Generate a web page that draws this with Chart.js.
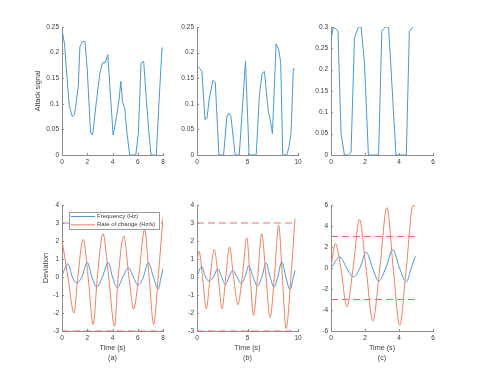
<!DOCTYPE html>
<html>
<head>
<meta charset="utf-8">
<script src="https://cdn.jsdelivr.net/npm/chart.js@4.4.1/dist/chart.umd.min.js"></script>
<style>
  body { margin: 0; background: #fff; width: 479px; height: 372px; position: relative; overflow: hidden; }
  canvas { position: absolute; }
</style>
</head>
<body>
<canvas id="attackA" width="151" height="152" style="left:22px;top:17px"></canvas>
<canvas id="attackB" width="151" height="152" style="left:157px;top:17px"></canvas>
<canvas id="attackC" width="152" height="152" style="left:291px;top:17px"></canvas>
<canvas id="devA" width="151" height="169" style="left:22px;top:195px"></canvas>
<canvas id="devB" width="151" height="169" style="left:157px;top:195px"></canvas>
<canvas id="devC" width="152" height="169" style="left:291px;top:195px"></canvas>
<script>
// ---- attack signal (top row) ----
const attackTimeA = [0, 0.21, 0.37, 0.58, 0.82, 1.0, 1.29, 1.42, 1.63, 1.82, 2.0, 2.26, 2.42, 2.74, 3.0, 3.21, 3.42, 3.63, 3.79, 4.05, 4.32, 4.53, 4.66, 4.79, 4.97, 5.16, 5.37, 5.84, 6.05, 6.26, 6.47, 6.68, 6.89, 7.05, 7.47, 7.68, 7.92, 8.0];
const attackA = [0.245, 0.215, 0.16, 0.095, 0.075, 0.08, 0.134, 0.212, 0.222, 0.221, 0.166, 0.044, 0.039, 0.108, 0.16, 0.18, 0.18, 0.196, 0.134, 0.039, 0.075, 0.11, 0.144, 0.104, 0.091, 0.039, 0, 0, 0.042, 0.18, 0.183, 0.108, 0.042, 0, 0, 0.101, 0.209, 0.209];

const attackTimeB = [0, 0.33, 0.49, 0.79, 0.99, 1.22, 1.58, 1.81, 2.17, 2.63, 2.96, 3.16, 3.36, 3.78, 4.18, 4.44, 4.80, 5.16, 5.86, 6.18, 6.45, 6.68, 7.04, 7.24, 7.47, 7.83, 8.09, 8.29, 8.49, 8.88, 9.11, 9.31, 9.54, 9.70];
const attackB = [0.174, 0.168, 0.163, 0.069, 0.072, 0.111, 0.146, 0.142, 0, 0, 0.075, 0.082, 0.075, 0, 0, 0.075, 0.183, 0, 0, 0.117, 0.16, 0.163, 0.088, 0.069, 0.042, 0.217, 0.206, 0.18, 0, 0, 0.016, 0.042, 0.168, 0.168];

const attackTimeC = [0, 0.14, 0.33, 0.41, 0.59, 0.79, 1.02, 1.18, 1.38, 1.61, 1.77, 1.97, 2.2, 2.8, 2.99, 3.19, 3.39, 3.82, 4.43, 4.61, 4.82];
const attackC = [0.27, 0.3, 0.294, 0.29, 0.051, 0, 0, 0.006, 0.274, 0.3, 0.3, 0.215, 0, 0, 0.29, 0.3, 0.3, 0, 0, 0.29, 0.3];

// ---- deviation (bottom row) ----
const freqTimeA = [0, 0.47, 0.82, 1.16, 1.58, 2.0, 2.37, 2.74, 3.2, 3.66, 4.0, 4.37, 4.82, 5.26, 5.65, 6.03, 6.44, 6.84, 7.24, 7.63, 7.85, 8.0];
const freqA = [0.09, 0.74, 0, -0.33, 0, 0.81, 0, -0.56, 0, 0.81, 0, -0.59, 0, 0.52, 0, -0.46, 0, 0.8, 0, -0.67, 0, 0.45];
const rocTimeA = [0, 0.47, 0.95, 1.25, 1.68, 2.07, 2.47, 2.8, 3.24, 3.7, 4.16, 4.45, 4.89, 5.3, 5.68, 6.07, 6.55, 6.9, 7.26, 7.62, 8.0];
const rocA = [2.04, 0, -2.0, 0, 2.09, 0, -2.63, 0, 2.41, 0, -2.74, 0, 2.28, 0, -1.78, 0, 2.63, 0, -2.63, 0, 3.3];

const freqTimeB = [0, 0.46, 0.85, 1.22, 1.63, 2.07, 2.44, 2.8, 3.17, 3.55, 3.95, 4.38, 4.75, 5.13, 5.55, 5.99, 6.42, 6.84, 7.24, 7.63, 8.0, 8.39, 8.8, 9.21, 9.55, 9.7];
const freqB = [0.04, 0.59, 0, -0.24, 0, 0.46, 0, -0.41, 0, 0.37, 0, -0.37, 0, 0.63, 0, -0.5, 0, 0.78, 0, -0.56, 0, 0.85, 0, -0.7, 0, 0.37];
const rocTimeB = [0, 0.2, 0.55, 0.92, 1.3, 1.71, 2.1, 2.47, 2.85, 3.22, 3.62, 4.05, 4.48, 4.93, 5.26, 5.59, 6.0, 6.41, 6.83, 7.24, 7.66, 8.09, 8.45, 8.82, 9.3, 9.7];
const rocB = [0.83, 1.44, 0, -1.76, 0, 1.52, 0, -1.76, 0, 1.67, 0, -1.54, 0, 2.17, 0, -2.13, 0, 2.41, 0, -2.26, 0, 2.87, 0, -2.87, 0, 3.24];

const freqTimeC = [0, 0.53, 0.92, 1.32, 1.7, 2.07, 2.44, 2.81, 3.22, 3.64, 4.03, 4.43, 4.72, 4.96];
const freqC = [0, 1.05, 0, -0.86, 0, 1.52, 0, -1.24, 0, 1.75, 0, -1.33, 0, 1.11];
const rocTimeC = [0, 0.26, 0.58, 0.93, 1.3, 1.67, 2.06, 2.46, 2.87, 3.29, 3.66, 4.04, 4.43, 4.82, 4.96];
const rocC = [0.16, 2.32, 0, -3.71, 0, 4.63, 0, -5.05, 0, 5.75, 0, -5.46, 0, 5.94, 5.87];

// rate-of-change limits (dashed)
const limitTimeA = [0, 8];
const limitTimeB = [0, 9.7];
const limitTimeC = [0, 4.96];
const limitHigh = 3;
const limitLow = -3;

// ticks
const timeTicksA = [0, 2, 4, 6, 8];
const timeTicksB = [0, 5, 10];
const timeTicksC = [0, 2, 4, 6];
const attackTicksAB = [0, 0.05, 0.1, 0.15, 0.2, 0.25];
const attackTicksC = [0, 0.05, 0.1, 0.15, 0.2, 0.25, 0.3];
const devTicksAB = [-3, -2, -1, 0, 1, 2, 3, 4];
const devTicksC = [-6, -4, -2, 0, 2, 4, 6];

const legendLabels = ['Frequency (Hz)', 'Rate of change (Hz/s)'];
const panelLabels = ['(a)', '(b)', '(c)'];

const blue = 'rgb(72,152,212)';
const orange = 'rgb(236,128,98)';
const dashRed = 'rgb(244,104,100)';
const axisColor = '#8c8c8c';
const textColor = '#3a3a3a';
const fontFamily = '"Liberation Sans", Arial, Helvetica, sans-serif';

function pts(xs, ys) {
    return xs.map((x, i) => ({x: x, y: ys[i]}));
}

function series(xs, ys, color, extra) {
    return Object.assign({
        data: pts(xs, ys),
        borderColor: color,
        borderWidth: 1,
        pointRadius: 0,
        fill: false,
        tension: 0
    }, extra || {});
}

function limitLine(xs, level) {
    return series(xs, xs.map(() => level), dashRed, {borderDash: [7, 4], clip: false});
}

// MATLAB-like inward tick marks
const inwardTicks = {
    id: 'inwardTicks',
    afterDraw(chart) {
        const {ctx, chartArea: a, scales} = chart;
        ctx.save();
        ctx.strokeStyle = axisColor;
        ctx.lineWidth = 1;
        ctx.beginPath();
        scales.x.ticks.forEach(t => {
            const px = Math.round(scales.x.getPixelForValue(t.value)) + 0.5;
            ctx.moveTo(px, a.bottom);
            ctx.lineTo(px, a.bottom - 2);
        });
        scales.y.ticks.forEach(t => {
            const py = Math.round(scales.y.getPixelForValue(t.value)) + 0.5;
            ctx.moveTo(a.left, py);
            ctx.lineTo(a.left + 2, py);
        });
        ctx.stroke();
        ctx.restore();
    }
};

// legend drawn inside the plot area
const boxLegend = {
    id: 'boxLegend',
    afterDatasetsDraw(chart, args, opts) {
        if (!opts.items) return;
        const {ctx, chartArea: a} = chart;
        const x0 = a.left + 7, x1 = a.right - 4, y0 = a.top + 7, y1 = a.top + 24;
        ctx.save();
        ctx.fillStyle = '#fff';
        ctx.fillRect(x0, y0, x1 - x0, y1 - y0);
        ctx.strokeStyle = '#9a9a9a';
        ctx.lineWidth = 1;
        ctx.strokeRect(x0 + 0.5, y0 + 0.5, x1 - x0, y1 - y0);
        ctx.font = '6px ' + fontFamily;
        ctx.textBaseline = 'middle';
        opts.items.forEach((it, i) => {
            const y = y0 + 4.5 + i * 8.3;
            ctx.strokeStyle = it.color;
            ctx.beginPath();
            ctx.moveTo(x0 + 2, y);
            ctx.lineTo(x0 + 26, y);
            ctx.stroke();
            ctx.fillStyle = textColor;
            ctx.fillText(it.text, x0 + 28, y);
        });
        ctx.restore();
    }
};

function makeChart(id, datasets, o) {
    const fixTicks = arr => (s => { s.ticks = arr.map(v => ({value: v})); });
    return new Chart(document.getElementById(id), {
        type: 'line',
        data: {datasets: datasets},
        plugins: [inwardTicks, boxLegend],
        options: {
            responsive: false,
            animation: false,
            events: [],
            layout: {autoPadding: false, padding: {top: 10, right: 10, left: 0, bottom: 0}},
            plugins: {
                legend: {display: false},
                tooltip: {enabled: false},
                boxLegend: {items: o.legend || null}
            },
            scales: {
                x: {
                    type: 'linear',
                    min: o.xTicks[0],
                    max: o.xTicks[o.xTicks.length - 1],
                    afterBuildTicks: fixTicks(o.xTicks),
                    afterFit: s => { s.height = o.xH; },
                    grid: {display: true, drawOnChartArea: false, drawTicks: false},
                    border: {display: true, color: axisColor, width: 1},
                    ticks: {
                        padding: 3, color: textColor, maxRotation: 0, autoSkip: false,
                        font: {family: fontFamily, size: 6.5},
                        callback: v => String(v)
                    },
                    title: {
                        display: !!o.xTitle,
                        text: o.xTitle || '',
                        color: textColor,
                        font: {family: fontFamily, size: 7.2, lineHeight: 10 / 7.2},
                        padding: {top: 0, bottom: 1}
                    }
                },
                y: {
                    type: 'linear',
                    min: o.yTicks[0],
                    max: o.yTicks[o.yTicks.length - 1],
                    afterBuildTicks: fixTicks(o.yTicks),
                    afterFit: s => { s.width = 40; },
                    grid: {display: true, drawOnChartArea: false, drawTicks: false},
                    border: {display: true, color: axisColor, width: 1},
                    ticks: {
                        padding: 3, color: textColor, autoSkip: false,
                        font: {family: fontFamily, size: 6.5},
                        callback: v => String(+v.toFixed(2))
                    },
                    title: {
                        display: !!o.yTitle,
                        text: o.yTitle || '',
                        color: textColor,
                        font: {family: fontFamily, size: 7.2},
                        padding: {top: o.yTitlePad || 0, bottom: 0}
                    }
                }
            }
        }
    });
}

makeChart('attackA', [series(attackTimeA, attackA, blue)],
    {xTicks: timeTicksA, yTicks: attackTicksAB, xH: 14, yTitle: 'Attack signal', yTitlePad: 11.5});
makeChart('attackB', [series(attackTimeB, attackB, blue)],
    {xTicks: timeTicksB, yTicks: attackTicksAB, xH: 14});
makeChart('attackC', [series(attackTimeC, attackC, blue)],
    {xTicks: timeTicksC, yTicks: attackTicksC, xH: 14});

const legendItems = [{text: legendLabels[0], color: blue}, {text: legendLabels[1], color: orange}];

makeChart('devA', [
    limitLine(limitTimeA, limitHigh),
    limitLine(limitTimeA, limitLow),
    series(rocTimeA, rocA, orange, {cubicInterpolationMode: 'monotone'}),
    series(freqTimeA, freqA, blue, {cubicInterpolationMode: 'monotone'})
], {xTicks: timeTicksA, yTicks: devTicksAB, xH: 33, yTitle: 'Deviation', yTitlePad: 20,
    xTitle: ['Time (s)', panelLabels[0]], legend: legendItems});

makeChart('devB', [
    limitLine(limitTimeB, limitHigh),
    limitLine(limitTimeB, limitLow),
    series(rocTimeB, rocB, orange, {cubicInterpolationMode: 'monotone'}),
    series(freqTimeB, freqB, blue, {cubicInterpolationMode: 'monotone'})
], {xTicks: timeTicksB, yTicks: devTicksAB, xH: 33, xTitle: ['Time (s)', panelLabels[1]]});

makeChart('devC', [
    limitLine(limitTimeC, limitHigh),
    limitLine(limitTimeC, limitLow),
    series(rocTimeC, rocC, orange, {cubicInterpolationMode: 'monotone'}),
    series(freqTimeC, freqC, blue, {cubicInterpolationMode: 'monotone'})
], {xTicks: timeTicksC, yTicks: devTicksC, xH: 33, xTitle: ['Time (s)', panelLabels[2]]});
</script>
</body>
</html>
